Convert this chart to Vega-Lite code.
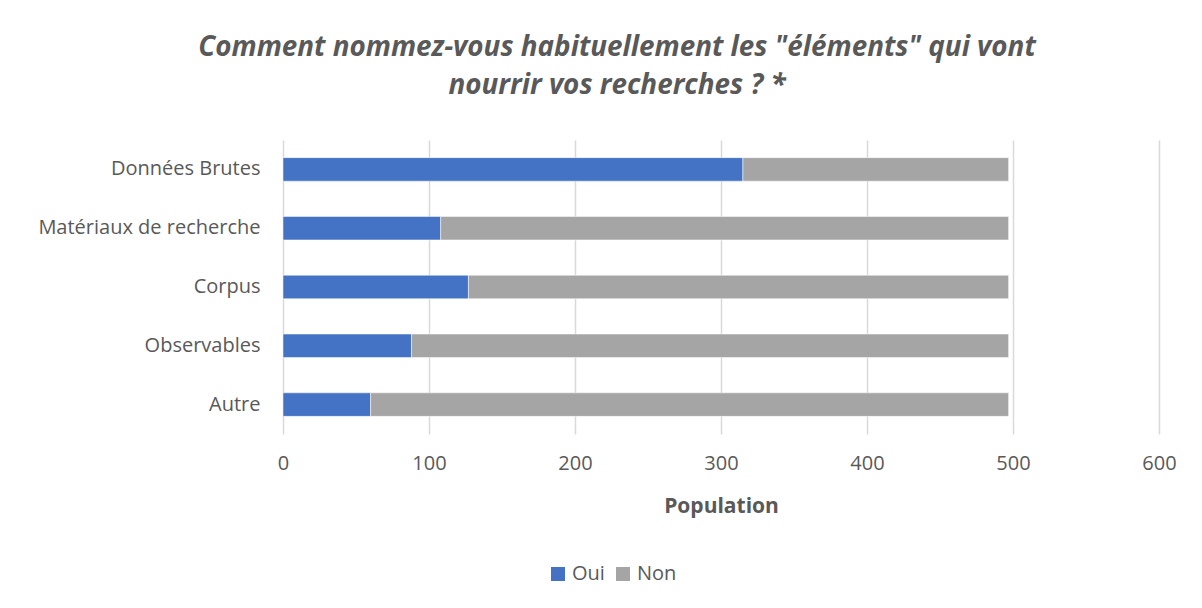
{
  "$schema": "https://vega.github.io/schema/vega-lite/v6.json",
  "autosize": "none",
  "width": 876,
  "height": 294,
  "padding": {"left": 283, "top": 140, "right": 43, "bottom": 174},
  "background": "white",
  "title": {
    "text": ["Comment nommez-vous habituellement les \"éléments\" qui vont", "nourrir vos recherches ? *"],
    "font": "Open Sans",
    "fontSize": 27.8,
    "fontStyle": "italic",
    "fontWeight": "bold",
    "color": "#595959",
    "anchor": "middle",
    "dx": -104,
    "lineHeight": 38,
    "offset": 40
  },
  "data": {
    "values": [
      {"categorie": "Données Brutes", "reponse": "Oui", "n": 315},
      {"categorie": "Données Brutes", "reponse": "Non", "n": 182},
      {"categorie": "Matériaux de recherche", "reponse": "Oui", "n": 108},
      {"categorie": "Matériaux de recherche", "reponse": "Non", "n": 389},
      {"categorie": "Corpus", "reponse": "Oui", "n": 127},
      {"categorie": "Corpus", "reponse": "Non", "n": 370},
      {"categorie": "Observables", "reponse": "Oui", "n": 88},
      {"categorie": "Observables", "reponse": "Non", "n": 409},
      {"categorie": "Autre", "reponse": "Oui", "n": 60},
      {"categorie": "Autre", "reponse": "Non", "n": 437}
    ]
  },
  "mark": {"type": "bar", "stroke": "white", "strokeWidth": 0.5},
  "encoding": {
    "y": {
      "field": "categorie",
      "type": "nominal",
      "sort": null,
      "scale": {"paddingInner": 0.6, "paddingOuter": 0.3},
      "axis": {
        "title": null,
        "ticks": false,
        "domain": false,
        "labelFont": "Open Sans",
        "labelFontSize": 20,
        "labelColor": "#595959",
        "labelPadding": 23,
        "labelLimit": 400
      }
    },
    "x": {
      "field": "n",
      "type": "quantitative",
      "stack": "zero",
      "scale": {"domain": [0, 600], "nice": false},
      "axis": {
        "values": [0, 100, 200, 300, 400, 500, 600],
        "title": "Population",
        "titleFont": "Open Sans",
        "titleFontSize": 21,
        "titleFontWeight": "bold",
        "titleColor": "#595959",
        "titlePadding": 22,
        "ticks": false,
        "domain": false,
        "grid": true,
        "gridColor": "#d9d9d9",
        "gridWidth": 1.5,
        "labelFlush": false,
        "labelFont": "Open Sans",
        "labelFontSize": 20,
        "labelColor": "#595959",
        "labelPadding": 19
      }
    },
    "color": {
      "field": "reponse",
      "type": "nominal",
      "scale": {"domain": ["Oui", "Non"], "range": ["#4472C4", "#A5A5A5"]},
      "legend": {
        "title": null,
        "orient": "none",
        "direction": "horizontal",
        "legendX": 265,
        "legendY": 424,
        "symbolType": "square",
        "symbolSize": 196,
        "symbolStrokeWidth": 0,
        "labelFont": "Open Sans",
        "labelFontSize": 20,
        "labelColor": "#595959",
        "columnPadding": 8,
        "labelOffset": 4
      }
    },
    "order": {"field": "reponse", "sort": "descending"}
  },
  "config": {"view": {"stroke": null}}
}
